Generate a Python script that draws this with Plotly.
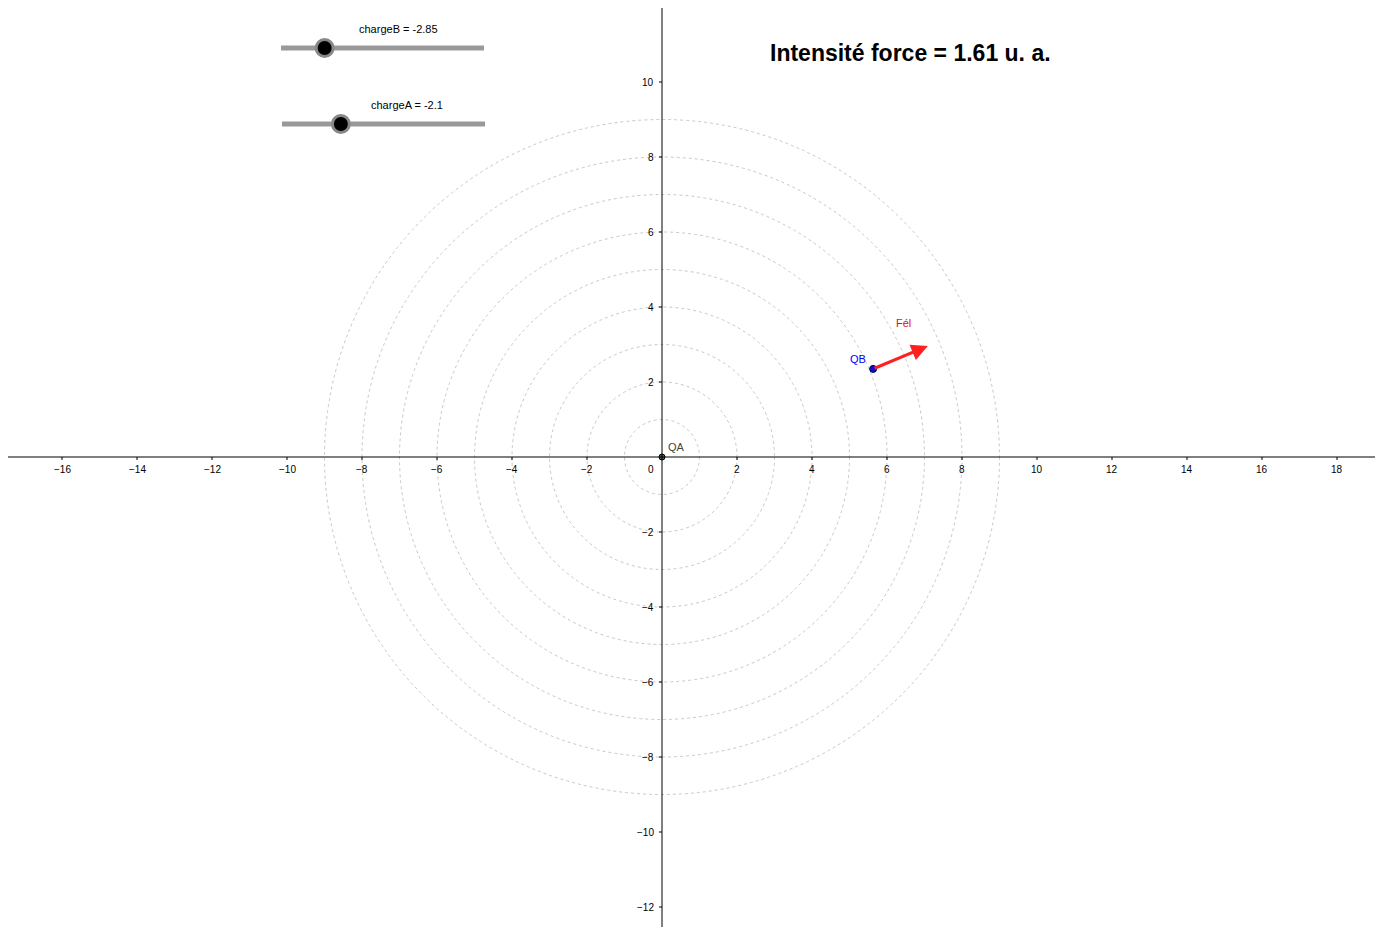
import plotly.graph_objects as go

radii = [1, 2, 3, 4, 5, 6, 7, 8, 9]
x_ticks = [-16, -14, -12, -10, -8, -6, -4, -2, 2, 4, 6, 8, 10, 12, 14, 16, 18]
y_ticks = [-12, -10, -8, -6, -4, -2, 2, 4, 6, 8, 10]
qa = (0.0, 0.0)
qb = (5.63, 2.35)
force_tip = (7.09, 2.96)
chargeA = -2.1
chargeB = -2.85
slider_min, slider_max = -5.0, 5.0
intensity = 1.61

OFF = 8
W, H = 1383 - 2 * OFF, 935 - 2 * OFF
s = 37.5
x0p, y0p = 662 - OFF, 457 - OFF
xr = [-x0p / s, (W - x0p) / s]
yr = [-(H - y0p) / s, y0p / s]

def px(x):
    return (x - OFF) / W

def py(y):
    return 1 - (y - OFF) / H

fig = go.Figure()
shapes = []
for r in radii:
    shapes.append(dict(type="circle", xref="x", yref="y", x0=-r, y0=-r, x1=r, y1=r, layer="below",
                       line=dict(color="#c8c8c8", width=1, dash="dot")))
shapes.append(dict(type="line", xref="x", yref="y", x0=xr[0], x1=xr[1], y0=0, y1=0, line=dict(color="black", width=1)))
shapes.append(dict(type="line", xref="x", yref="y", x0=0, x1=0, y0=yr[0], y1=yr[1], line=dict(color="black", width=1)))
ann = []
for t in x_ticks:
    shapes.append(dict(type="line", xref="x", yref="y", x0=t, x1=t, y0=0, y1=-0.08, line=dict(color="black", width=1)))
    ann.append(dict(x=t, y=-0.13, xref="x", yref="y", text=str(t).replace("-", "−"), showarrow=False,
                    yanchor="top", font=dict(size=10, color="black", family="Arial")))
for t in y_ticks:
    shapes.append(dict(type="line", xref="x", yref="y", x0=0, x1=-0.08, y0=t, y1=t, line=dict(color="black", width=1)))
    ann.append(dict(x=-0.15, y=t, xref="x", yref="y", text=str(t).replace("-", "−"), showarrow=False,
                    xanchor="right", yanchor="middle", font=dict(size=10, color="black", family="Arial")))
ann.append(dict(x=-0.15, y=-0.13, xref="x", yref="y", text="0", showarrow=False, xanchor="right", yanchor="top",
                font=dict(size=10, color="black", family="Arial")))

ann.append(dict(x=force_tip[0], y=force_tip[1], ax=qb[0], ay=qb[1], xref="x", yref="y", axref="x", ayref="y",
                showarrow=True, arrowhead=2, arrowsize=1.1, arrowwidth=3, arrowcolor="#ff2020", text=""))
ann.append(dict(x=6.45, y=3.58, xref="x", yref="y", text="Fél", showarrow=False, yanchor="middle",
                font=dict(size=11, color="#e01010", family="Arial")))
ann.append(dict(x=qb[0] - 0.4, y=qb[1] + 0.26, xref="x", yref="y", text="QB", showarrow=False, yanchor="middle",
                font=dict(size=11, color="blue", family="Arial")))
ann.append(dict(x=0.1, y=0.28, xref="x", yref="y", text="QA", showarrow=False, xanchor="left", yanchor="middle",
                font=dict(size=11, color="#444", family="Arial")))

fig.add_trace(go.Scatter(x=[qa[0]], y=[qa[1]], mode="markers",
                         marker=dict(size=6, color="#555", line=dict(color="black", width=1)), hoverinfo="skip"))
fig.add_trace(go.Scatter(x=[qb[0]], y=[qb[1]], mode="markers",
                         marker=dict(size=7, color="#1010d0", line=dict(color="#000040", width=1)), hoverinfo="skip"))

def slider(label, val, x0px, x1px, ypx, lab_px):
    xa, xb = px(x0px), px(x1px)
    yy = py(ypx)
    shapes.append(dict(type="line", xref="paper", yref="paper", x0=xa, x1=xb, y0=yy, y1=yy, layer="below",
                       line=dict(color="#999", width=5)))
    kx = xa + (val - slider_min) / (slider_max - slider_min) * (xb - xa)
    fig.add_trace(go.Scatter(x=[kx], y=[yy], xaxis="x2", yaxis="y2", mode="markers",
                             marker=dict(size=17, color="black", line=dict(color="#888", width=3)), hoverinfo="skip"))
    ann.append(dict(x=px(lab_px), y=py(ypx - 19), xref="paper", yref="paper", text=f"{label} = {val:g}",
                    showarrow=False, yanchor="middle", font=dict(size=11, color="black", family="Arial")))

slider("chargeB", chargeB, 281, 484, 48, 357)
slider("chargeA", chargeA, 282, 485, 124, 369)

ann.append(dict(x=px(910), y=py(53), xref="paper", yref="paper", yanchor="middle",
                text=f"<b>Intensité force = {intensity:.2f} u. a.</b>", showarrow=False,
                font=dict(size=23, color="black", family="Arial")))

fig.update_layout(width=W, height=H, margin=dict(l=0, r=0, t=0, b=0), showlegend=False,
                  plot_bgcolor="white", paper_bgcolor="white", shapes=shapes, annotations=ann,
                  xaxis=dict(range=xr, visible=False, fixedrange=True),
                  yaxis=dict(range=yr, visible=False, fixedrange=True),
                  xaxis2=dict(range=[0, 1], visible=False, overlaying="x"),
                  yaxis2=dict(range=[0, 1], visible=False, overlaying="y"))
fig.write_html("out.html")
